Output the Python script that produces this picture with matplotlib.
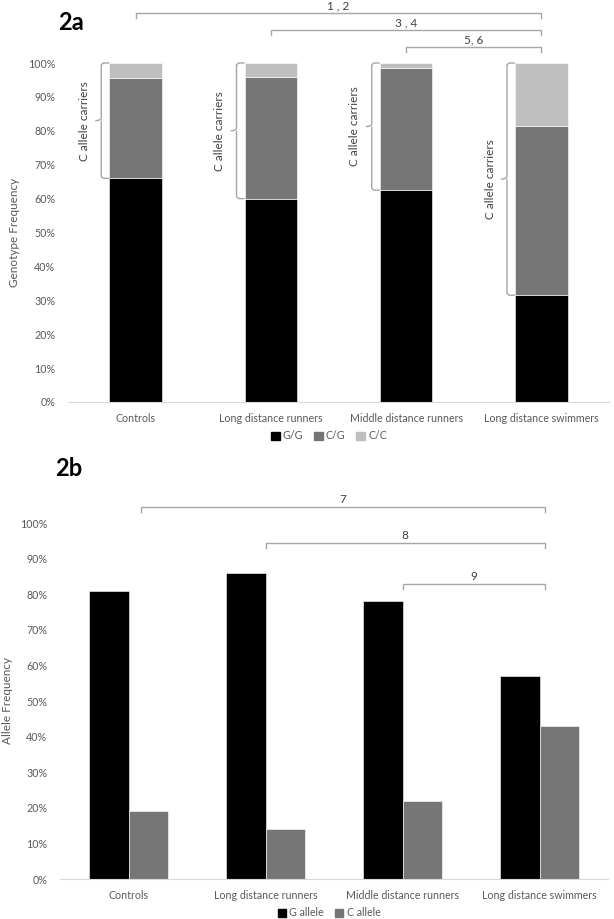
import matplotlib
matplotlib.use("Agg")
import matplotlib.pyplot as plt
from matplotlib.path import Path
from matplotlib.patches import PathPatch, Patch
import numpy as np

# ---------------- data ----------------
categories = ["Controls", "Long distance runners", "Middle distance runners", "Long distance swimmers"]
genotype_gg = [66.0, 60.0, 62.5, 31.5]
genotype_cg = [29.5, 36.0, 36.0, 50.0]
genotype_cc = [4.5, 4.0, 1.5, 18.5]
allele_g = [81, 86, 78, 57]
allele_c = [19, 14, 22, 43]
yticks = list(range(0, 101, 10))
sig_top = [("1 , 2", 0, 3), ("3 , 4", 1, 3), ("5, 6", 2, 3)]
sig_bottom = [("7", 0, 3), ("8", 1, 3), ("9", 2, 3)]

FONT = ["Lato", "DejaVu Sans"]
plt.rcParams["font.family"] = FONT
TICK_C = "#595959"
LINE_C = "#a6a6a6"
C_BLACK = "#000000"
C_MID = "#767676"
C_LIGHT = "#bfbfbf"

W, H = 614, 919
fig = plt.figure(figsize=(W / 100, H / 100), dpi=100)

def style_axes(ax):
    for s in ["top", "right", "left"]:
        ax.spines[s].set_visible(False)
    ax.spines["bottom"].set_color("#d9d9d9")
    ax.spines["bottom"].set_linewidth(0.8)
    ax.tick_params(axis="both", length=0, colors=TICK_C, labelsize=7.7)
    ax.set_yticks(yticks)
    ax.set_yticklabels([f"{t}%" for t in yticks])
    ax.set_ylim(0, 100)
    ax.set_xlim(-0.5, len(categories) - 0.5)
    ax.set_xticks(np.arange(len(categories)))
    ax.set_xticklabels(categories)
    ax.tick_params(axis="y", pad=9)
    ax.tick_params(axis="x", pad=8)

# ---------------- 2a ----------------
ax1 = fig.add_axes([68 / W, 1 - 402 / H, 541 / W, 339 / H])
x = np.arange(len(categories))
bw = 0.39
ax1.bar(x, genotype_gg, bw, color=C_BLACK, edgecolor="white", linewidth=0.4, label="G/G")
ax1.bar(x, genotype_cg, bw, bottom=genotype_gg, color=C_MID, edgecolor="white", linewidth=0.4, label="C/G")
bot2 = [a + b for a, b in zip(genotype_gg, genotype_cg)]
ax1.bar(x, genotype_cc, bw, bottom=bot2, color=C_LIGHT, edgecolor="white", linewidth=0.4, label="C/C")
style_axes(ax1)
ax1.set_ylabel("Genotype Frequency", color=TICK_C, fontsize=8.5)
ax1.yaxis.set_label_coords(-(68 - 20) / 541, 0.5)

px_x1 = 541 / 4.0      # pixels per x-unit
px_y1 = 339 / 100.0    # pixels per y-unit

# curly brackets "C allele carriers"
for i, gg in enumerate(genotype_gg):
    xb = i - bw / 2
    xv = xb - 8 / px_x1
    xt = xv - 6 / px_x1
    ytop, ybot = 100.0, gg
    ymid = (ytop + ybot) / 2
    rx = 3 / px_x1
    ry = 3 / px_y1
    verts = [(xb, ytop), (xv + rx, ytop), (xv, ytop), (xv, ytop - ry),
             (xv, ymid + ry), (xv, ymid), (xt, ymid),
             (xv, ymid), (xv, ymid - ry),
             (xv, ybot + ry), (xv, ybot), (xv + rx, ybot), (xb, ybot)]
    codes = [Path.MOVETO, Path.LINETO, Path.CURVE3, Path.CURVE3,
             Path.LINETO, Path.CURVE3, Path.CURVE3,
             Path.MOVETO, Path.LINETO,
             Path.LINETO, Path.CURVE3, Path.CURVE3, Path.LINETO]
    ax1.add_patch(PathPatch(Path(verts, codes), fill=False, edgecolor=LINE_C, lw=1.0, clip_on=False))
    ax1.text(xt - 11 / px_x1, ymid, "C allele carriers", rotation=90, ha="center", va="center",
             fontsize=8.5, color="#404040")

# significance brackets (top)
for k, (lab, a, b) in enumerate(sig_top):
    yl = 114.7 - 5.0 * k
    tick = 5 / px_y1
    ax1.plot([a, a, b, b], [yl - tick, yl, yl, yl - tick], color=LINE_C, lw=1.0, clip_on=False)
    ax1.text((a + b) / 2, yl + 0.6, lab, ha="center", va="bottom", fontsize=8.5, color="#404040")

fig.text(58 / W, 1 - 22 / H, "2a", fontsize=17, fontweight="bold", va="center", ha="left", color="black")

handles1 = [Patch(color=C_BLACK, label="G/G"), Patch(color=C_MID, label="C/G"), Patch(color=C_LIGHT, label="C/C")]
leg1 = fig.legend(handles=handles1, loc="center", bbox_to_anchor=(329 / W, 1 - 436 / H), ncol=3,
                  frameon=False, fontsize=7.7, handlelength=0.8, handleheight=0.8,
                  handletextpad=0.3, columnspacing=1.0)
for t in leg1.get_texts():
    t.set_color(TICK_C)

# ---------------- 2b ----------------
ax2 = fig.add_axes([60 / W, 1 - 879 / H, 548 / W, 356 / H])
bw2 = 0.285
ax2.bar(x - bw2 / 2, allele_g, bw2, color=C_BLACK, edgecolor="white", linewidth=0.4, label="G allele")
ax2.bar(x + bw2 / 2, allele_c, bw2, color=C_MID, edgecolor="white", linewidth=0.4, label="C allele")
style_axes(ax2)
ax2.set_ylabel("Allele Frequency", color=TICK_C, fontsize=8.5)
ax2.yaxis.set_label_coords(-(60 - 13) / 548, 0.5)

px_y2 = 356 / 100.0
sig_y2 = [104.5, 94.4, 82.9]
sig_x0 = [0.09, 1.0, 2.0]
for k, (lab, a, b) in enumerate(sig_bottom):
    yl = sig_y2[k]
    xa = sig_x0[k]
    xe = b + 0.04
    tick = 5 / px_y2
    ax2.plot([xa, xa, xe, xe], [yl - tick, yl, yl, yl - tick], color=LINE_C, lw=1.0, clip_on=False)
    ax2.text((xa + xe) / 2, yl + 0.6, lab, ha="center", va="bottom", fontsize=8.5, color="#404040")

fig.text(55 / W, 1 - 468 / H, "2b", fontsize=17, fontweight="bold", va="center", ha="left", color="black")

handles2 = [Patch(color=C_BLACK, label="G allele"), Patch(color=C_MID, label="C allele")]
leg2 = fig.legend(handles=handles2, loc="center", bbox_to_anchor=(329 / W, 1 - 913 / H), ncol=2,
                  frameon=False, fontsize=7.7, handlelength=0.8, handleheight=0.8,
                  handletextpad=0.3, columnspacing=1.0)
for t in leg2.get_texts():
    t.set_color(TICK_C)

fig.savefig("out.png", dpi=100, facecolor="white")
